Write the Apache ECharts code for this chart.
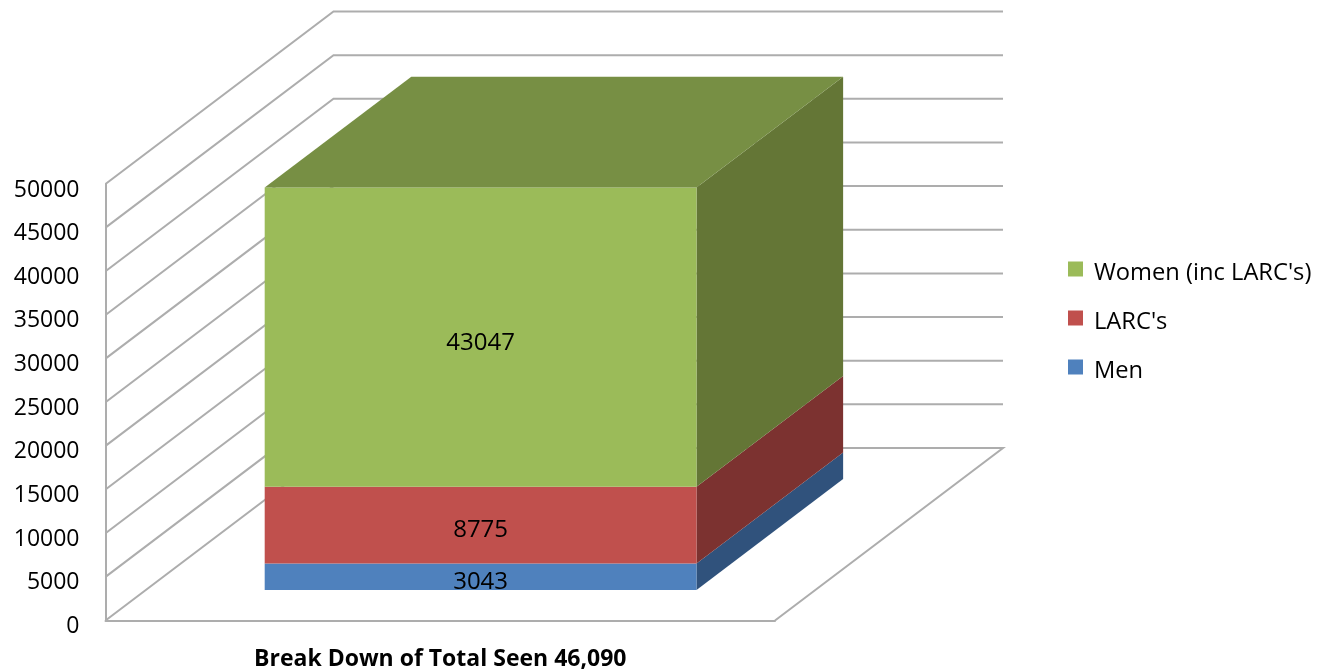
<!DOCTYPE html>
<html>
<head>
<meta charset="utf-8">
<style>html,body{margin:0;padding:0;background:#fff}#c{width:1320px;height:671px}</style>
<script src="https://cdn.jsdelivr.net/npm/echarts@6/dist/echarts.min.js"></script>
</head>
<body>
<div id="c"></div>
<script>
const categories = ['Break Down of Total Seen 46,090'];
const menValues = [3043];
const larcValues = [8775];
const womenValues = [34272];
const menLabels = ['3043'];
const larcLabels = ['8775'];
const womenLabels = ['43047'];
const legendNames = ["Women (inc LARC's)", "LARC's", 'Men'];
const tickValues = [0,5000,10000,15000,20000,25000,30000,35000,40000,45000,50000];

const FONT = '"Open Sans", sans-serif';
const DEPTH_X = 228, DEPTH_Y = 172.5;
const FRONT = 0.177, BACK = 0.82, BAR_RATIO = 0.645;
const GRID = '#adadad';

const chart = echarts.init(document.getElementById('c'), null, {renderer:'canvas'});

function wallItem(params, api) {
  const v = api.value(1);
  const band = api.size([1,0])[0];
  const p = api.coord([0, v]);
  const x0 = p[0] - band/2, x1 = p[0] + band/2, y = p[1];
  const pts = [[x0,y],[x0+DEPTH_X,y-DEPTH_Y],[x1+DEPTH_X,y-DEPTH_Y]];
  if (v === 0) pts.push([x1,y]);
  return {type:'polyline', shape:{points:pts}, style:{fill:null, stroke:GRID, lineWidth:2}};
}

function barRenderer(front, side, top, labels, showTop) {
  return function(params, api) {
    const i = params.dataIndex;
    const lo = api.coord([i, api.value(1)]);
    const hi = api.coord([i, api.value(2)]);
    const band = api.size([1,0])[0];
    const w = band * BAR_RATIO;
    const fx = lo[0] - w/2 + FRONT*DEPTH_X, fd = FRONT*DEPTH_Y;
    const bdx = (BACK-FRONT)*DEPTH_X, bdy = (BACK-FRONT)*DEPTH_Y;
    const yb = lo[1]-fd, yt = hi[1]-fd, xr = fx+w;
    const kids = [
      {type:'polygon', shape:{points:[[xr,yb],[xr+bdx,yb-bdy],[xr+bdx,yt-bdy],[xr,yt]]}, style:{fill:side}},
      {type:'rect', shape:{x:fx,y:yt,width:w,height:yb-yt}, style:{fill:front}}
    ];
    if (showTop) kids.push({type:'polygon', shape:{points:[[fx,yt],[xr,yt],[xr+bdx,yt-bdy],[fx+bdx,yt-bdy]]}, style:{fill:top}});
    kids.push({type:'text', style:{x:fx+w/2, y:(yb+yt)/2+5.5, text:labels[i], fill:'#000', font:'24px '+FONT, align:'center', verticalAlign:'middle'}});
    return {type:'group', children:kids};
  };
}

function stacked(lows, values) { return values.map((v,i)=>[i, lows[i], lows[i]+v]); }
const larcBase = menValues.map(v=>v);
const womenBase = menValues.map((v,i)=>v+larcValues[i]);

const option = {
  animation:false,
  backgroundColor:'#fff',
  grid:{left:105.5, right:545, top:184, bottom:50.5, containLabel:false},
  legend:{
    data:[legendNames[0],legendNames[1],legendNames[2]],
    orient:'vertical', left:1068, top:261.5, padding:0,
    itemWidth:15, itemHeight:15, itemGap:25, icon:'rect',
    selectedMode:false,
    formatter:n=>'{a|'+n+'}',
    textStyle:{fontFamily:FONT, fontSize:23.7, color:'#000',
      rich:{a:{fontFamily:FONT, fontSize:23.7, color:'#000', padding:[9,0,0,6]}}}
  },
  xAxis:{
    type:'category', data:categories,
    axisLine:{show:true, lineStyle:{color:GRID, width:2}},
    axisTick:{show:false},
    axisLabel:{fontFamily:FONT, fontWeight:'bold', fontSize:23, color:'#000', margin:27}
  },
  yAxis:{
    type:'value', min:0, max:50000, interval:5000,
    axisLine:{show:true, lineStyle:{color:GRID, width:2}},
    axisTick:{show:false},
    splitLine:{show:false},
    axisLabel:{fontFamily:FONT, fontSize:23, color:'#000', margin:26, verticalAlign:'top', lineHeight:12, formatter:v=>String(v)}
  },
  series:[
    {type:'custom', name:'walls', coordinateSystem:'cartesian2d', clip:false, silent:true, z:1,
     data:tickValues.map(v=>[0,v]), renderItem:wallItem},
    {type:'custom', name:legendNames[2], coordinateSystem:'cartesian2d', clip:false, z:2,
     itemStyle:{color:'#4F81BD'}, encode:{x:0,y:2},
     data:stacked(menValues.map(()=>0), menValues),
     renderItem:barRenderer('#4F81BD','#30527C','#3F6797',menLabels,false)},
    {type:'custom', name:legendNames[1], coordinateSystem:'cartesian2d', clip:false, z:3,
     itemStyle:{color:'#C0504D'}, encode:{x:0,y:2},
     data:stacked(larcBase, larcValues),
     renderItem:barRenderer('#C0504D','#7C3230','#9A403E',larcLabels,false)},
    {type:'custom', name:legendNames[0], coordinateSystem:'cartesian2d', clip:false, z:4,
     itemStyle:{color:'#9BBB59'}, encode:{x:0,y:2},
     data:stacked(womenBase, womenValues),
     renderItem:barRenderer('#9BBB59','#647636','#778F44',womenLabels,true)}
  ]
};
chart.setOption(option);
</script>
</body>
</html>
